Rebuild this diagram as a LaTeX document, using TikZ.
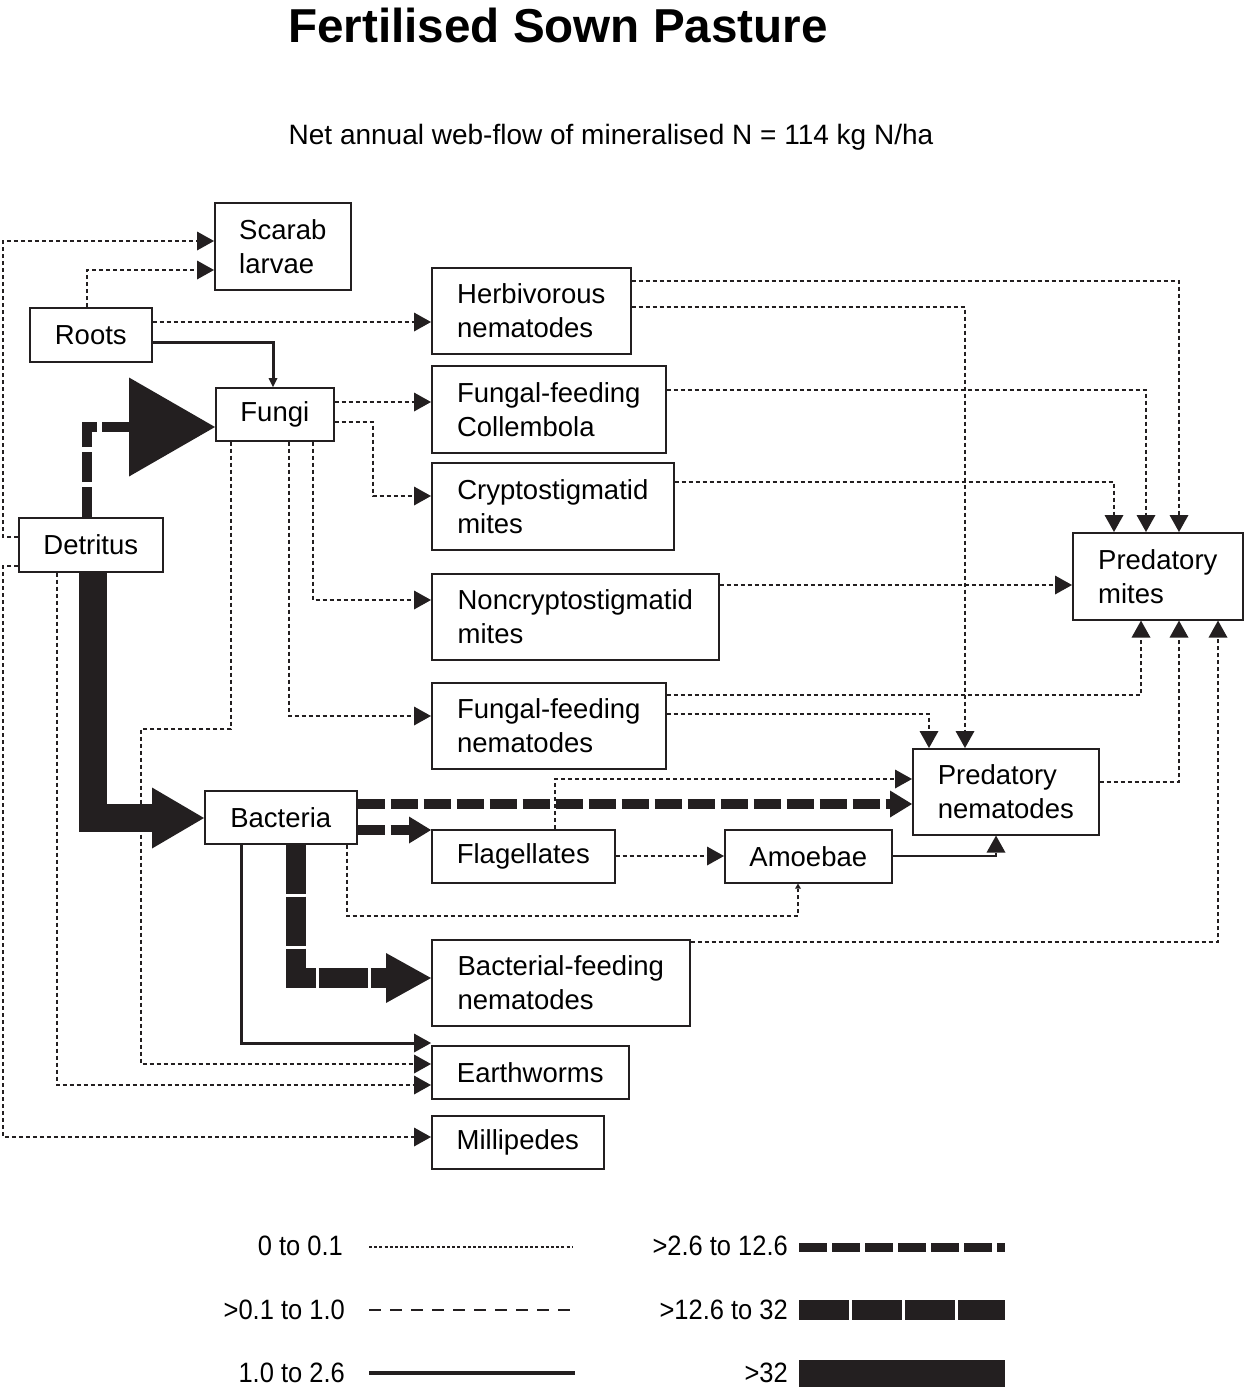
\documentclass[tikz,border=0pt]{standalone}
\usepackage{fontspec}
\setmainfont{Liberation Sans}
\newfontfamily\legfont[FakeStretch=0.91]{Liberation Sans}
\usetikzlibrary{arrows.meta}
\definecolor{ink}{RGB}{35,31,32}
\newcommand\boxfont{\fontsize{27.5}{34}\selectfont}
\begin{document}
\begin{tikzpicture}[x=1pt,y=-1pt,
  box/.style={draw=ink, line width=1.6pt, fill=white, inner sep=0pt, align=left, font=\boxfont, anchor=north west, text=black},
  legf/.style={font=\legfont\fontsize{28}{34}\selectfont, inner sep=0pt, anchor=base east, text=black},
  f0/.style={draw=ink, line width=1.3pt, dash pattern=on 4pt off 3pt},
  f0leg/.style={draw=ink, line width=1.6pt, dash pattern=on 3pt off 2.2pt},
  f1/.style={draw=ink, line width=1.5pt, dash pattern=on 12pt off 9pt},
  f2/.style={draw=ink, line width=3pt},
  f2a/.style={draw=ink, line width=2pt},
  f3/.style={draw=ink, line width=10pt, dash pattern=on 27pt off 6pt, line join=miter},
  f4/.style={draw=ink, line width=20pt, dash pattern=on 49pt off 3pt, line join=miter},
  f5/.style={draw=ink, line width=28pt, line join=miter},
  tipXXS/.tip={Triangle[length=5pt,width=6pt,line width=0pt]},
  tipXS/.tip={Triangle[length=9pt,width=9pt,line width=0pt]},
  tipS/.tip={Triangle[length=17pt,width=19pt,line width=0pt]},
  tipM/.tip={Triangle[length=22pt,width=27pt,line width=0pt]},
  tipBF/.tip={Triangle[length=45pt,width=50pt,line width=0pt]},
  tipXL/.tip={Triangle[length=52pt,width=61pt,line width=0pt]},
  tipL/.tip={Triangle[length=86pt,width=99pt,line width=0pt]},
]
\useasboundingbox (0,0) rectangle (1244,1390);
\fill[white] (0,0) rectangle (1244,1390);

% titles
\node[font=\fontsize{47.6}{57}\selectfont\bfseries, anchor=base, inner sep=0pt] (title) at (558,42) {Fertilised Sown Pasture};
\node[font=\fontsize{28}{34}\selectfont, anchor=base, inner sep=0pt] (subtitle) at (611,144) {Net annual web-flow of mineralised N = 114 kg N/ha};

% boxes
\node[box, minimum width=136pt, minimum height=87pt] (scarab) at (214,202) {Scarab\\larvae};
\node[box, minimum width=122pt, minimum height=54pt] (roots) at (29,307) {Roots};
\node[box, minimum width=199pt, minimum height=86pt] (herb) at (431,267) {Herbivorous\\nematodes};
\node[box, minimum width=118pt, minimum height=53pt] (fungi) at (215,387) {Fungi};
\node[box, minimum width=234pt, minimum height=87pt] (coll) at (431,365) {Fungal-feeding\\Collembola};
\node[box, minimum width=242pt, minimum height=87pt] (crypto) at (431,462) {Cryptostigmatid\\mites};
\node[box, minimum width=144pt, minimum height=54pt] (detritus) at (18,517) {Detritus};
\node[box, minimum width=287pt, minimum height=86pt] (noncrypto) at (431,573) {Noncryptostigmatid\\mites};
\node[box, minimum width=170pt, minimum height=87pt] (predmites) at (1072,532) {Predatory\\mites};
\node[box, minimum width=234pt, minimum height=86pt] (ffnem) at (431,682) {Fungal-feeding\\nematodes};
\node[box, minimum width=186pt, minimum height=86pt] (prednem) at (912,748) {Predatory\\nematodes};
\node[box, minimum width=152pt, minimum height=53pt] (bacteria) at (204,790) {Bacteria};
\node[box, minimum width=183pt, minimum height=53pt] (flag) at (431,829) {Flagellates};
\node[box, minimum width=167pt, minimum height=53pt] (amoeb) at (724,829) {Amoebae};
\node[box, minimum width=258pt, minimum height=86pt] (bfn) at (431,939) {Bacterial-feeding\\nematodes};
\node[box, minimum width=197pt, minimum height=53pt] (earth) at (431,1045) {Earthworms};
\node[box, minimum width=172pt, minimum height=53pt] (milli) at (431,1115) {Millipedes};

% flows
\draw[f0,-tipS] (detritus.west |- 0,537) -| (3,241) -- (scarab.west |- 0,241);
\draw[f0,-tipS] (roots.north -| 87,0) |- (scarab.west |- 0,270);
\draw[f0,-tipS] (roots.east |- 0,322) -- (herb.west |- 0,322);
\draw[f2,-tipXS] (roots.east |- 0,342) -| (fungi.north -| 273,0);
\draw[f3,dash pattern=on 30pt off 5pt,-tipL] (detritus.north -| 87,0) |- (fungi.west |- 0,427);
\draw[f5,-tipXL] (detritus.south -| 93,0) |- (bacteria.west |- 0,818);
\draw[f0,-tipS] (fungi.east |- 0,402) -- (coll.west |- 0,402);
\draw[f0,-tipS] (fungi.east |- 0,422) -| (373,496) -- (crypto.west |- 0,496);
\draw[f0,-tipS] (fungi.south -| 313,0) |- (noncrypto.west |- 0,600);
\draw[f0,-tipS] (fungi.south -| 289,0) |- (ffnem.west |- 0,716);
\draw[f0,-tipS] (fungi.south -| 231,0) -- (231,729) -| (141,1064) -- (earth.west |- 0,1064);
\draw[f0,-tipS] (detritus.south -| 57,0) |- (earth.west |- 0,1085);
\draw[f0,-tipS] (detritus.west |- 0,566) -| (3,1137) -- (milli.west |- 0,1137);
\draw[f3,-tipM] (bacteria.east |- 0,804) -- (prednem.west |- 0,804);
\draw[f3,-tipM] (bacteria.east |- 0,830) -- (flag.west |- 0,830);
\draw[f4,-tipBF] (bacteria.south -| 296,0) |- (bfn.west |- 0,978);
\draw[f2,-tipS] (bacteria.south -| 241,0) |- (earth.west |- 0,1043);
\draw[f0,-tipXXS] (bacteria.south -| 347,0) -- (347,916) -| (amoeb.south -| 798,0);
\draw[f0,-tipS] (flag.east |- 0,856) -- (amoeb.west |- 0,856);
\draw[f0,-tipS] (flag.north -| 555,0) |- (prednem.west |- 0,779);
\draw[f2a,-tipS] (amoeb.east |- 0,856) -| (prednem.south -| 996,0);
\draw[f0,-tipS] (herb.east |- 0,281) -| (predmites.north -| 1179,0);
\draw[f0,-tipS] (herb.east |- 0,307) -| (prednem.north -| 965,0);
\draw[f0,-tipS] (coll.east |- 0,390) -| (predmites.north -| 1146,0);
\draw[f0,-tipS] (crypto.east |- 0,482) -| (predmites.north -| 1114,0);
\draw[f0,-tipS] (noncrypto.east |- 0,585) -- (predmites.west |- 0,585);
\draw[f0,-tipS] (ffnem.east |- 0,695) -| (predmites.south -| 1141,0);
\draw[f0,-tipS] (ffnem.east |- 0,714) -| (prednem.north -| 929,0);
\draw[f0,-tipS] (prednem.east |- 0,782) -| (predmites.south -| 1179,0);
\draw[f0,-tipS] (bfn.east |- 0,942) -| (predmites.south -| 1218,0);

% legend
\node[legf] (l0) at (343,1255) {0 to 0.1};
\node[legf] (l1) at (345,1319) {>0.1 to 1.0};
\node[legf] (l2) at (345,1382) {1.0 to 2.6};
\node[legf] (l3) at (788,1255) {>2.6 to 12.6};
\node[legf] (l4) at (788,1319) {>12.6 to 32};
\node[legf] (l5) at (788,1382) {>32};
\draw[f0leg] (369,1247) -- (573,1247);
\draw[f1] (369,1310) -- (575,1310);
\draw[f2, line width=4pt] (369,1373) -- (575,1373);
\draw[f3, line width=9pt, dash pattern=on 28pt off 5pt] (799,1247) -- (1005,1247);
\draw[f4, dash pattern=on 50pt off 3pt] (799,1310) -- (1005,1310);
\draw[f5, line width=27pt] (799,1373) -- (1005,1373);
\end{tikzpicture}
\end{document}
